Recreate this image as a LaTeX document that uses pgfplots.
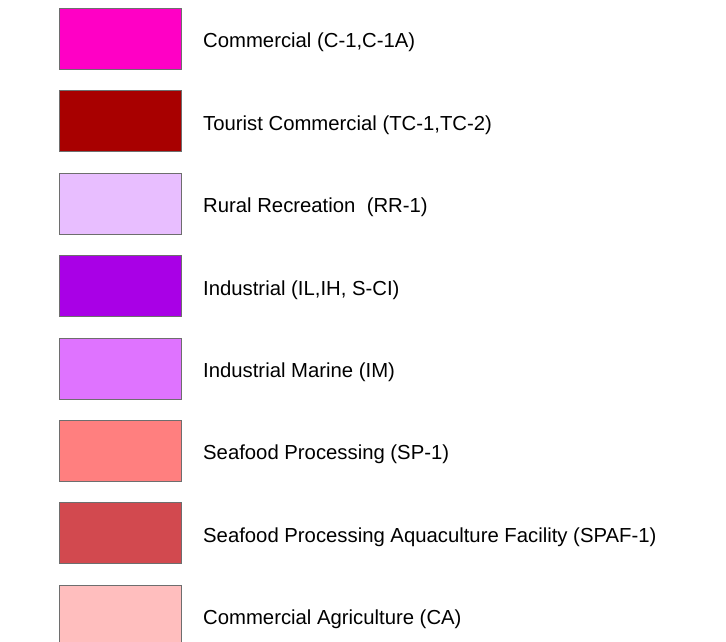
\documentclass[border=0pt]{standalone}
\usepackage{pgfplots}
\pgfplotsset{compat=1.18}
\usepackage{fontspec}
\setmainfont{Liberation Sans}
\definecolor{bordergray}{HTML}{6E6E6E}
\definecolor{cA}{HTML}{FF00C5}
\definecolor{cB}{HTML}{A80000}
\definecolor{cC}{HTML}{E8BEFF}
\definecolor{cD}{HTML}{A900E6}
\definecolor{cE}{HTML}{DF73FF}
\definecolor{cF}{HTML}{FF7F7F}
\definecolor{cG}{HTML}{D2494F}
\definecolor{cH}{HTML}{FFBEBE}
\begin{document}
\begin{tikzpicture}
\begin{axis}[
  x=1pt, y=1pt,
  xmin=0, xmax=726, ymin=0, ymax=642,
  y dir=reverse,
  hide axis,
  clip=true,
  every axis plot/.append style={draw=bordergray, line width=1pt, line join=miter},
]
\addplot[fill=cA] coordinates {(59.5,8.5) (181.5,8.5) (181.5,69.5) (59.5,69.5)} -- cycle;
\addplot[fill=cB] coordinates {(59.5,90.9) (181.5,90.9) (181.5,151.9) (59.5,151.9)} -- cycle;
\addplot[fill=cC] coordinates {(59.5,173.3) (181.5,173.3) (181.5,234.3) (59.5,234.3)} -- cycle;
\addplot[fill=cD] coordinates {(59.5,255.7) (181.5,255.7) (181.5,316.7) (59.5,316.7)} -- cycle;
\addplot[fill=cE] coordinates {(59.5,338.1) (181.5,338.1) (181.5,399.1) (59.5,399.1)} -- cycle;
\addplot[fill=cF] coordinates {(59.5,420.5) (181.5,420.5) (181.5,481.5) (59.5,481.5)} -- cycle;
\addplot[fill=cG] coordinates {(59.5,502.9) (181.5,502.9) (181.5,563.9) (59.5,563.9)} -- cycle;
\addplot[fill=cH] coordinates {(59.5,585.3) (181.5,585.3) (181.5,646.3) (59.5,646.3)} -- cycle;
\begin{scope}[every node/.style={anchor=base west, inner sep=0pt, font=\fontsize{20.3}{24}\selectfont}]
\node at (axis cs:203,47.8) {Commercial (C-1,C-1A)};
\node at (axis cs:203,130.2) {Tourist Commercial (TC-1,TC-2)};
\node at (axis cs:203,212.6) {Rural Recreation\ \ (RR-1)};
\node at (axis cs:203,295.0) {Industrial (IL,IH, S-CI)};
\node at (axis cs:203,377.4) {Industrial Marine (IM)};
\node at (axis cs:203,459.8) {Seafood Processing (SP-1)};
\node at (axis cs:203,542.2) {Seafood Processing Aquaculture Facility (SPAF-1)};
\node at (axis cs:203,624.6) {Commercial Agriculture (CA)};
\end{scope}
\end{axis}
\pgfresetboundingbox
\path (current axis.south west) rectangle (current axis.north east);
\end{tikzpicture}
\end{document}
